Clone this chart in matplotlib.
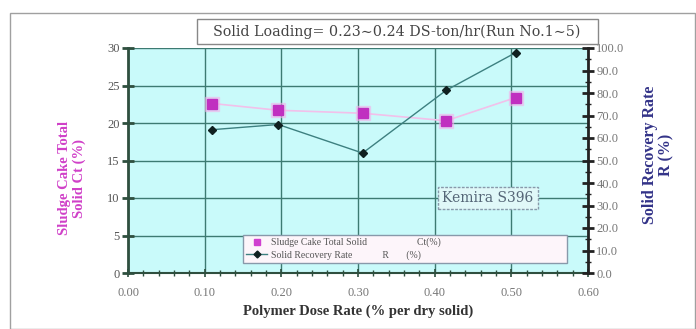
import matplotlib
matplotlib.use("Agg")
import matplotlib.pyplot as plt
from matplotlib.lines import Line2D
from matplotlib.patches import Rectangle
from matplotlib.ticker import MultipleLocator, FormatStrFormatter

# ---- data ----
dose = [0.11, 0.196, 0.306, 0.415, 0.506]
cake_solid = [22.6, 21.7, 21.3, 20.3, 23.4]
recovery = [63.7, 66.0, 53.3, 81.2, 98.0]
xticks = [0.0, 0.1, 0.2, 0.3, 0.4, 0.5, 0.6]
left_ticks = [0, 5, 10, 15, 20, 25, 30]
right_ticks = [0, 10, 20, 30, 40, 50, 60, 70, 80, 90, 100]

title_txt = "Solid Loading= 0.23\u223c0.24 DS-ton/hr(Run No.1\u223c5)"
serif = ["Liberation Serif", "DejaVu Serif"]
plt.rcParams["font.family"] = serif

fig = plt.figure(figsize=(6.96, 3.29), dpi=100)
fig.patch.set_facecolor("white")
fig.patches.append(Rectangle((10/696, 0), 1 - 10/696 - 0.001, 1 - 13/329,
                             transform=fig.transFigure, fill=False,
                             edgecolor="#a0a0a0", linewidth=1.0))
# title box
fig.patches.append(Rectangle((197/696, 1 - 44/329), 401/696, 25/329,
                             transform=fig.transFigure, facecolor="white",
                             edgecolor="#888888", linewidth=1.0, zorder=5))

ax = fig.add_axes([128/696, 1 - 273/329, 460/696, 225/329])
ax.set_facecolor("#c9fafa")
ax.set_xlim(0, 0.6)
ax.set_ylim(0, 30)
ax.set_xticks(xticks)
ax.set_yticks(left_ticks)
ax.xaxis.set_major_formatter(FormatStrFormatter("%.2f"))
ax.xaxis.set_minor_locator(MultipleLocator(0.02))
ax.grid(True, which="major", color="#3d7a72", linewidth=1.0)
ax.set_axisbelow(True)
for s in ["top", "right"]:
    ax.spines[s].set_visible(False)
ax.spines["left"].set_color("#2f4f3f")
ax.spines["left"].set_linewidth(2.0)
ax.spines["bottom"].set_color("#2f4f3f")
ax.spines["bottom"].set_linewidth(1.5)
ax.tick_params(axis="y", direction="inout", length=8, width=2, colors="#2f4f3f",
               labelcolor="#555555", labelsize=9, pad=2)
ax.tick_params(axis="x", which="major", direction="inout", length=6, width=1.2,
               colors="#2f4f3f", labelcolor="#777777", labelsize=9, pad=7)
ax.tick_params(axis="x", which="minor", direction="inout", length=4, width=1,
               colors="#2f4f3f")

ax.plot(dose, cake_solid, color="#f2c0ea", linewidth=1.2, zorder=3)
ax.plot(dose, cake_solid, linestyle="none", marker="s", markersize=10,
        color="#f5b0ec", alpha=0.5, zorder=3)
ax.plot(dose, cake_solid, linestyle="none", marker="s", markersize=6.5,
        color="#c030c0", zorder=4)

ax2 = ax.twinx()
ax2.set_ylim(0, 100)
ax2.set_yticks(right_ticks)
ax2.yaxis.set_major_formatter(FormatStrFormatter("%.1f"))
ax2.yaxis.set_minor_locator(MultipleLocator(5))
for s in ["top", "left", "bottom"]:
    ax2.spines[s].set_visible(False)
ax2.spines["right"].set_color("#222222")
ax2.spines["right"].set_linewidth(2.0)
ax2.tick_params(axis="y", which="major", direction="inout", length=8, width=2,
                colors="#222222", labelcolor="#777777", labelsize=9, pad=2)
ax2.tick_params(axis="y", which="minor", direction="inout", length=4, width=1,
                colors="#222222")
ax2.plot(dose, recovery, color="#3d8080", linewidth=1.0, marker="D",
         markersize=4.5, markerfacecolor="#102020", markeredgecolor="#102020",
         zorder=5)

h1 = Line2D([], [], linestyle="none", marker="s", markersize=5, color="#d040d0")
h2 = Line2D([], [], color="#3d8080", linewidth=1.0, marker="D", markersize=3.5,
            markerfacecolor="#102020", markeredgecolor="#102020")
leg = ax2.legend([h1, h2],
                 ["Sludge Cake Total Solid                    Ct(%)",
                  "Solid Recovery Rate            R       (%)"],
                 loc="lower left", bbox_to_anchor=(0.25, 0.045, 0.705, 0.155),
                 mode="expand", fontsize=7, frameon=True, fancybox=False,
                 borderpad=0.3, labelspacing=0.3, handlelength=2.2,
                 handletextpad=0.4, borderaxespad=0)
leg.get_frame().set_facecolor("#fdf5fa")
leg.get_frame().set_edgecolor("#8899aa")
leg.get_frame().set_alpha(1)
for t in leg.get_texts():
    t.set_color("#555555")
leg.set_zorder(10)

ax2.text(488/696, 1 - 198/329, "Kemira S396", transform=fig.transFigure,
         ha="center", va="center", fontsize=10, color="#556677", zorder=6,
         family=["DejaVu Serif"],
         bbox=dict(boxstyle="square,pad=0.3", facecolor="#e0f8f8",
                   edgecolor="#8899aa", linestyle=(0, (2, 1)), linewidth=1.0))

fig.text(397/696, 1 - 32/329, title_txt, ha="center", va="center",
         fontsize=10.3, color="#444444", family=["DejaVu Serif"], zorder=6)

fig.text(358/696, 1 - 311/329, "Polymer Dose Rate (% per dry solid)",
         ha="center", va="center", fontsize=10.5, fontweight="bold", color="#333333")
fig.text(72/696, 1 - 178/329, "Sludge Cake Total\nSolid Ct (%)", rotation=90,
         ha="center", va="center", fontsize=10.5, fontweight="bold",
         color="#d040c8", linespacing=1.1)
fig.text(658/696, 1 - 155/329, "Solid Recovery Rate\nR (%)", rotation=90,
         ha="center", va="center", fontsize=11.5, fontweight="bold",
         color="#333388", linespacing=1.0)

fig.savefig("out.png", dpi=100)
